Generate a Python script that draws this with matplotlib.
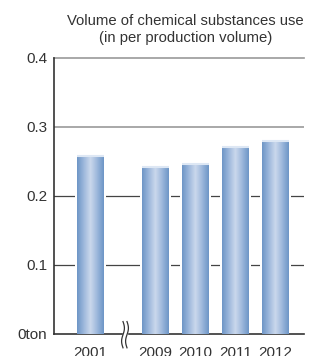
import matplotlib.pyplot as plt
from matplotlib.colors import LinearSegmentedColormap
import numpy as np

years = ['2001', '2009', '2010', '2011', '2012']
positions = [0, 1.625, 2.625, 3.625, 4.625]
values = [0.258, 0.242, 0.246, 0.271, 0.280]
yticks = [0, 0.1, 0.2, 0.3, 0.4]
ytick_labels = ['0ton', '0.1', '0.2', '0.3', '0.4']

plt.rcParams['font.family'] = ['Liberation Sans', 'DejaVu Sans']
text_color = '#333333'

fig = plt.figure(figsize=(3.2, 3.56), dpi=100)
ax = fig.add_axes([0.16875, 0.0618, 0.78125, 0.7753])
ax.set_xlim(-0.9125, 5.3375)
ax.set_ylim(0, 0.4)

# grid lines
ax.axhline(0.3, color='#999999', lw=1.2, zorder=1)
ax.axhline(0.4, color='#999999', lw=1.2, zorder=1, clip_on=False)
for y in (0.1, 0.2):
    ax.axhline(y, color='#444444', lw=0.9, zorder=1)

# gradient bars
cmap = LinearSegmentedColormap.from_list(
    'bar', ['#6e96c6', '#9db8dc', '#cbd8ec', '#9db8dc', '#6e96c6'])
grad = np.linspace(0, 1, 64).reshape(1, -1)
w = 0.675
for x, v in zip(positions, values):
    # white margin around the bar
    ax.bar(x, v, width=w + 0.12, color='white', zorder=2)
    ax.imshow(grad, cmap=cmap, aspect='auto', zorder=3,
              extent=(x - w / 2, x + w / 2, 0, v), interpolation='bilinear')
    ax.plot([x - w / 2, x + w / 2], [v, v], color='#dde7f4', lw=1.5,
            zorder=4, solid_capstyle='butt')

ax.set_xlim(-0.9125, 5.3375)
ax.set_ylim(0, 0.4)

for s in ('top', 'right'):
    ax.spines[s].set_visible(False)
ax.spines['left'].set_color('#333333')
ax.spines['bottom'].set_color('#333333')
ax.spines['left'].set_linewidth(1.2)
ax.spines['bottom'].set_linewidth(1.2)

ax.set_yticks(yticks)
ax.set_yticklabels(ytick_labels)
ax.set_xticks(positions)
ax.set_xticklabels(years)
ax.tick_params(axis='y', length=0, pad=5, labelsize=11, labelcolor=text_color)
ax.tick_params(axis='x', length=0, pad=9, labelsize=11, labelcolor=text_color)

# axis break mark
bx = 0.8625
t = np.linspace(0, 1, 60)
ax.fill_between([bx - 0.05, bx + 0.05], -0.01, 0.01, color='white',
                zorder=5, clip_on=False)
for dx in (-0.05, 0.05):
    ax.plot(bx + dx + 0.035 * np.sin(t * 2 * np.pi), 0.018 - t * 0.038,
            color='#333333', lw=0.9, clip_on=False, zorder=6)

fig.text(0.58, 0.918, 'Volume of chemical substances use\n(in per production volume)',
         ha='center', va='center', fontsize=10.7, color=text_color,
         linespacing=1.3)

fig.savefig('out.png', dpi=100)
